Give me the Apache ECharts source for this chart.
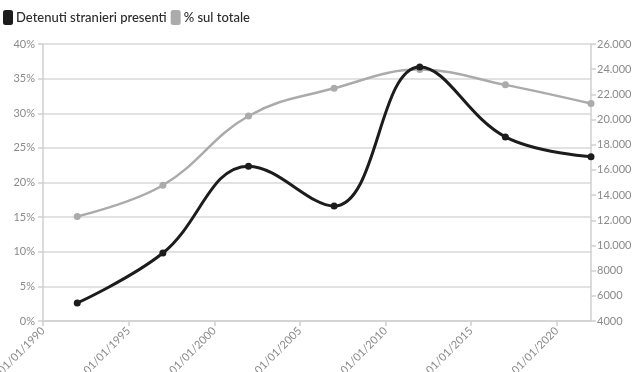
<!DOCTYPE html>
<html>
<head>
<meta charset="utf-8">
<script src="https://cdn.jsdelivr.net/npm/echarts@6/dist/echarts.min.js"></script>
<style>
  html, body { margin: 0; padding: 0; background: #fff; }
  #chart { width: 635px; height: 372px; }
</style>
</head>
<body>
<div id="chart"></div>
<script>
// Survey years (1 January of each year)
const years = [1992, 1997, 2002, 2007, 2012, 2017, 2022];
// Foreign detainees present
const detenutiStranieri = [5430, 9400, 16300, 13130, 24170, 18620, 17040];
// Share of total prison population (%)
const percentualeTotale = [15.1, 19.6, 29.6, 33.6, 36.3, 34.1, 31.4];
// Labelled x ticks
const xTickYears = [1990, 1995, 2000, 2005, 2010, 2015, 2020];

const FONT = 'Lato, "Noto Sans", sans-serif';
const AXIS_GREY = '#cfcfcf';
const LABEL_GREY = '#8a8a8a';

function thousands(v) {
  if (v < 10000) return String(v);
  return String(v).replace(/\B(?=(\d{3})+(?!\d))/g, '.');
}

const chart = echarts.init(document.getElementById('chart'), null, { renderer: 'canvas' });

chart.setOption({
  animation: false,
  textStyle: { fontFamily: FONT },
  legend: {
    left: 3,
    top: 10,
    padding: 0,
    itemGap: 4,
    itemWidth: 10,
    itemHeight: 15,
    icon: 'roundRect',
    textStyle: { fontFamily: FONT, fontSize: 13, fontWeight: 500, color: '#2b2b2b', padding: [0, 0, 0, -2] },
    data: ['Detenuti stranieri presenti', '% sul totale']
  },
  grid: { left: 43, right: 44, top: 44, bottom: 51, containLabel: false, outerBoundsMode: 'none' },
  xAxis: {
    type: 'value',
    min: 1990,
    max: 2022,
    interval: 5,
    axisLine: { show: true, lineStyle: { color: AXIS_GREY, width: 1.5 } },
    axisTick: { show: true, length: 5, customValues: xTickYears, lineStyle: { color: AXIS_GREY, width: 1.5 } },
    splitLine: { show: false },
    axisLabel: {
      customValues: xTickYears,
      rotate: 45,
      color: LABEL_GREY,
      fontSize: 11,
      fontFamily: FONT,
      margin: 8,
      formatter: v => '01/01/' + v
    }
  },
  yAxis: [
    {
      type: 'value',
      position: 'left',
      min: 0,
      max: 40,
      interval: 5,
      axisLine: { show: true, lineStyle: { color: AXIS_GREY, width: 1.5 } },
      axisTick: { show: true, length: 5, lineStyle: { color: AXIS_GREY, width: 1.5 } },
      splitLine: { show: true, lineStyle: { color: '#d8d8d8', width: 1.5 } },
      axisLabel: { color: LABEL_GREY, fontSize: 11, fontFamily: FONT, margin: 8, formatter: '{value}%' }
    },
    {
      type: 'value',
      position: 'right',
      min: 4000,
      max: 26000,
      interval: 2000,
      axisLine: { show: true, lineStyle: { color: AXIS_GREY, width: 1.5 } },
      axisTick: { show: true, length: 5, lineStyle: { color: AXIS_GREY, width: 1.5 } },
      splitLine: { show: false },
      axisLabel: { color: LABEL_GREY, fontSize: 11, fontFamily: FONT, margin: 6, formatter: v => thousands(v) }
    }
  ],
  series: [
    {
      name: '% sul totale',
      type: 'line',
      yAxisIndex: 0,
      smooth: 0.4,
      symbol: 'circle',
      symbolSize: 7,
      color: '#ababab',
      lineStyle: { width: 2.5, color: '#ababab' },
      itemStyle: { color: '#ababab' },
      data: years.map((y, i) => [y, percentualeTotale[i]]),
      z: 2
    },
    {
      name: 'Detenuti stranieri presenti',
      type: 'line',
      yAxisIndex: 1,
      smooth: 0.4,
      symbol: 'circle',
      symbolSize: 7,
      color: '#1c1c1c',
      lineStyle: { width: 3, color: '#1c1c1c' },
      itemStyle: { color: '#1c1c1c' },
      data: years.map((y, i) => [y, detenutiStranieri[i]]),
      z: 3
    }
  ]
});
</script>
</body>
</html>
